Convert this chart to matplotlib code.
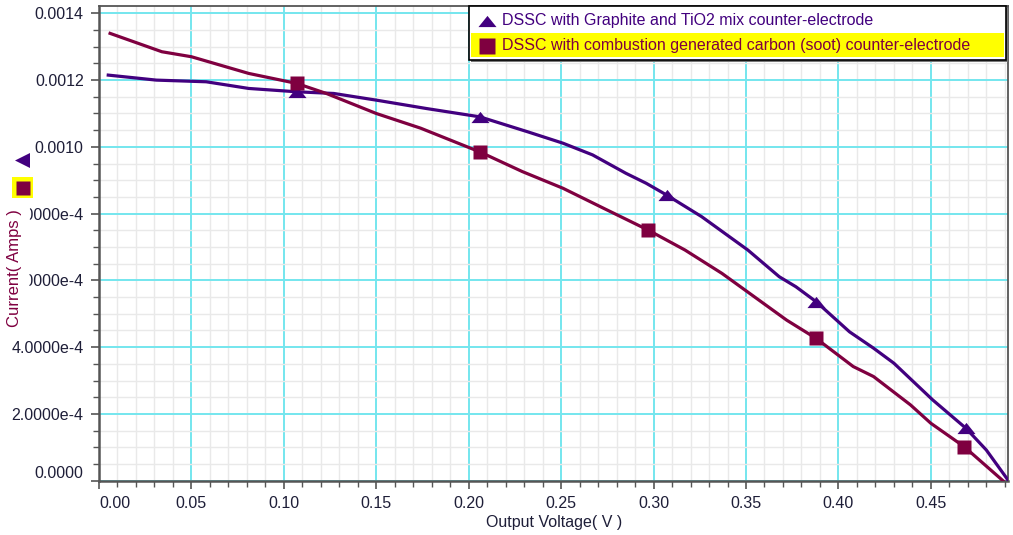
import numpy as np
import matplotlib.pyplot as plt
from matplotlib.patches import Rectangle
from matplotlib.lines import Line2D
from matplotlib.ticker import MultipleLocator

plt.rcParams['font.family'] = ['Liberation Sans', 'DejaVu Sans']

# --- data ---
graphite_label = "DSSC with Graphite and TiO2 mix counter-electrode"
graphite_v = [0.005, 0.031, 0.058, 0.081, 0.107, 0.127, 0.150, 0.177, 0.206, 0.217,
              0.232, 0.251, 0.267, 0.285, 0.296, 0.307, 0.326, 0.351, 0.368, 0.377,
              0.388, 0.406, 0.419, 0.430, 0.451, 0.469, 0.480, 0.492]
graphite_i = [0.001215, 0.001200, 0.001195, 0.001175, 0.001165, 0.001160, 0.001140,
              0.001115, 0.001090, 0.001071, 0.001045, 0.001011, 0.000976, 0.000921,
              0.000891, 0.000856, 0.000791, 0.000691, 0.000611, 0.000581, 0.000536,
              0.000446, 0.000397, 0.000352, 0.000242, 0.000157, 0.000092, 0.0]
graphite_marks = [4, 8, 15, 20, 25]

soot_label = "DSSC with combustion generated carbon (soot) counter-electrode"
soot_v = [0.006, 0.034, 0.050, 0.081, 0.107, 0.123, 0.150, 0.174, 0.206, 0.229,
          0.251, 0.273, 0.297, 0.317, 0.337, 0.357, 0.372, 0.388, 0.408, 0.419,
          0.439, 0.450, 0.468, 0.489]
soot_i = [0.001340, 0.001285, 0.001270, 0.001220, 0.001190, 0.001160, 0.001100,
          0.001056, 0.000985, 0.000926, 0.000876, 0.000816, 0.000751, 0.000691,
          0.000621, 0.000541, 0.000481, 0.000426, 0.000342, 0.000312, 0.000227,
          0.000172, 0.000102, 0.0]
soot_marks = [4, 8, 12, 17, 22]

x_ticks = [0.00, 0.05, 0.10, 0.15, 0.20, 0.25, 0.30, 0.35, 0.40, 0.45]
x_tick_labels = ["0.00", "0.05", "0.10", "0.15", "0.20", "0.25", "0.30", "0.35", "0.40", "0.45"]
y_ticks = [0.0, 0.0002, 0.0004, 0.0006, 0.0008, 0.0010, 0.0012, 0.0014]
y_tick_labels = ["0.0000", "2.0000e-4", "4.0000e-4", "6.0000e-4", "8.0000e-4",
                 "0.0010", "0.0012", "0.0014"]

PURPLE = '#42007f'
MAROON = '#7f0040'
W, H = 1013, 535

# flattened triangle marker
tri = [(-1, -0.62), (1, -0.62), (0, 0.62), (-1, -0.62)]
tri_left = [(1, -1), (1, 1), (-1, 0), (1, -1)]


def fx(px):
    return px / W


def fy(py):
    return 1 - py / H


fig = plt.figure(figsize=(W / 100, H / 100), dpi=100)
ax = fig.add_axes([fx(99), fy(480.7), 909.3 / W, 474.7 / H])

ax.plot(graphite_v, graphite_i, color=PURPLE, lw=2.3, marker=tri, ms=13,
        markevery=graphite_marks, mec='none', zorder=4)
ax.plot(soot_v, soot_i, color=MAROON, lw=2.3, marker='s', ms=10.5,
        markevery=soot_marks, mec='none', zorder=4)

ax.set_xlim(0, 0.4919)
ax.set_ylim(0, 0.001422)
ax.set_xticks(x_ticks)
ax.set_xticklabels(x_tick_labels)
ax.set_yticks(y_ticks)
ax.set_yticklabels(y_tick_labels)
ax.xaxis.set_minor_locator(MultipleLocator(0.01))
ax.yaxis.set_minor_locator(MultipleLocator(0.00005))

ax.grid(which='minor', color='#e9e9e9', lw=1.0, zorder=0)
ax.grid(which='major', color='#74e6ee', lw=1.4, zorder=1)
ax.set_axisbelow(True)

for s in ax.spines.values():
    s.set_color('#555555')
    s.set_linewidth(1.3)
ax.spines['left'].set_linewidth(1.8)
ax.spines['bottom'].set_linewidth(1.8)

ax.tick_params(which='major', length=6, width=1.2, color='#555555',
               labelsize=11.5, labelcolor='#1e1e38')
ax.tick_params(which='minor', length=4, width=1.0, color='#555555')
ax.tick_params(axis='x', pad=5)
ax.tick_params(axis='y', pad=5)

# edge labels nudged inside like the original
ax.get_xticklabels()[0].set_horizontalalignment('left')
ax.get_yticklabels()[0].set_verticalalignment('bottom')

ax.set_xlabel("Output Voltage( V )", fontsize=11.5, color='#1e1e38', labelpad=3)
# the label's white box hides the start of two tick labels, as in the original
ax.set_ylabel("Current( Amps )", fontsize=12, color=MAROON,
              bbox=dict(facecolor='white', edgecolor='none', boxstyle='square,pad=0.45'))
ax.yaxis.set_label_coords((22 - 99) / 909.3, (480.7 - 268) / 474.7)

# series symbols above the y label
fig.add_artist(Line2D([fx(22)], [fy(160)], transform=fig.transFigure, marker=tri_left,
                      ms=10.8, color=PURPLE, mec='none', ls='none'))
fig.add_artist(Rectangle((fx(12), fy(198)), 21 / W, 21 / H, transform=fig.transFigure,
                         facecolor='#ffff00', edgecolor='none'))
fig.add_artist(Line2D([fx(22.5)], [fy(187.5)], transform=fig.transFigure, marker='s',
                      ms=10.5, color=MAROON, mec='none', ls='none'))

# legend box (drawn by hand for the highlighted row)
fig.add_artist(Rectangle((fx(471), fy(62)), 537 / W, 54 / H, transform=fig.transFigure,
                         facecolor='#777777', edgecolor='none', zorder=5))
fig.add_artist(Rectangle((fx(469), fy(60)), 537 / W, 54 / H, transform=fig.transFigure,
                         facecolor='white', edgecolor='black', lw=1.2, zorder=6))
fig.add_artist(Rectangle((fx(471), fy(57)), 533 / W, 24 / H, transform=fig.transFigure,
                         facecolor='#ffff00', edgecolor='none', zorder=7))
fig.add_artist(Line2D([fx(487)], [fy(21)], transform=fig.transFigure, marker=tri, ms=13,
                      color=PURPLE, mec='none', ls='none', zorder=8))
fig.add_artist(Line2D([fx(487)], [fy(45.5)], transform=fig.transFigure, marker='s', ms=11,
                      color=MAROON, mec='none', ls='none', zorder=8))
fig.text(fx(502), fy(21), graphite_label, color=PURPLE, fontsize=11.5, va='center', zorder=8)
fig.text(fx(502), fy(45.5), soot_label, color=MAROON, fontsize=11.5, va='center', zorder=8)

fig.savefig('out.png', dpi=100)
